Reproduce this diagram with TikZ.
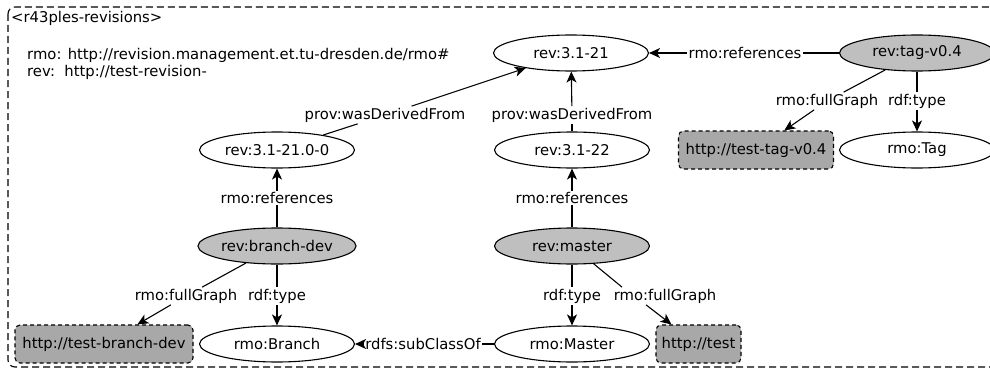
\documentclass[tikz,border=0pt]{standalone}
\usepackage{fontspec}
\setmainfont{DejaVu Sans}
\usetikzlibrary{arrows.meta,shapes.geometric}
\begin{document}
\begin{tikzpicture}[x=1pt,y=-1pt,
  every node/.style={font=\fontsize{14.8}{17}\selectfont},
  res/.style={ellipse,draw,line width=1.1pt,minimum width=155pt,minimum height=36pt,inner sep=0pt},
  refnode/.style={res,fill=black!25},
  graphbox/.style={rectangle,draw,dashed,dash pattern=on 4pt off 3pt,rounded corners=5pt,
    line width=1.1pt,fill=black!34,minimum height=38pt,inner sep=0pt},
  lab/.style={fill=white,inner sep=1.5pt},
  edge/.style={line width=1.1pt},
  arr/.style={edge,-{Stealth[length=11pt,width=10pt,inset=3pt]}}]
\useasboundingbox (0,0) rectangle (990,369);
\clip (0,0) rectangle (990,369);

% enclosing named graph
\draw[line width=1.1pt,dash pattern=on 7pt off 4pt,rounded corners=7pt] (8,7) rectangle (1010,367);
\node[anchor=west,inner sep=0pt] (gname) at (11,18) {<r43ples-revisions>};
\node[anchor=west,inner sep=0pt,align=left] (prefixes) at (27,64)
  {rmo: http://revision.management.et.tu-dresden.de/rmo\#\\
   rev:\ \ http://test-revision-};

% revisions and references
\node[res] (r21) at (571,53) {rev:3.1-21};
\node[refnode] (tag) at (917,53) {rev:tag-v0.4};
\node[res] (r210) at (277,150) {rev:3.1-21.0-0};
\node[res] (r22) at (572,150) {rev:3.1-22};
\node[graphbox,minimum width=155pt] (tagg) at (756,150) {http://test-tag-v0.4};
\node[res] (tagcls) at (917,150) {rmo:Tag};
\node[refnode] (bdev) at (277,246) {rev:branch-dev};
\node[refnode] (master) at (572,246) {rev:master};
\node[graphbox,minimum width=178pt] (bdevg) at (104,344) {http://test-branch-dev};
\node[res] (branch) at (277,344) {rmo:Branch};
\node[res] (mastercls) at (572,344) {rmo:Master};
\node[graphbox,minimum width=85pt] (testg) at (698.5,344) {http://test};

% edge labels
\node[lab] (l1) at (745,53) {rmo:references};
\node[lab] (l2) at (385,115) {prov:wasDerivedFrom};
\node[lab] (l3) at (572,115) {prov:wasDerivedFrom};
\node[lab] (l4) at (827,101) {rmo:fullGraph};
\node[lab] (l5) at (917,101) {rdf:type};
\node[lab] (l6) at (277,198) {rmo:references};
\node[lab] (l7) at (572,198) {rmo:references};
\node[lab] (l8) at (186,296) {rmo:fullGraph};
\node[lab] (l9) at (277,296) {rdf:type};
\node[lab] (l10) at (572,296) {rdf:type};
\node[lab] (l11) at (665,296) {rmo:fullGraph};
\node[lab] (l12) at (423,344) {rdfs:subClassOf};

% edges
\draw[edge] (tag) -- (l1); \draw[arr] (l1) -- (r21);
\draw[edge] (r210) -- (l2); \draw[arr] (l2) -- (r21);
\draw[edge] (r22) -- (l3); \draw[arr] (l3) -- (r21);
\draw[edge] (tag) -- (l4); \draw[arr] (l4) -- (tagg);
\draw[edge] (tag) -- (l5); \draw[arr] (l5) -- (tagcls);
\draw[edge] (bdev) -- (l6); \draw[arr] (l6) -- (r210);
\draw[edge] (master) -- (l7); \draw[arr] (l7) -- (r22);
\draw[edge] (bdev) -- (l8); \draw[arr] (l8) -- (bdevg);
\draw[edge] (bdev) -- (l9); \draw[arr] (l9) -- (branch);
\draw[edge] (master) -- (l10); \draw[arr] (l10) -- (mastercls);
\draw[edge] (master) -- ([xshift=10pt]l11.north west);
\draw[arr] ([xshift=34pt]l11.south west) -- ([xshift=16pt]testg.north west);
\draw[edge] (mastercls) -- (l12); \draw[arr] (l12) -- (branch);
\end{tikzpicture}
\end{document}
